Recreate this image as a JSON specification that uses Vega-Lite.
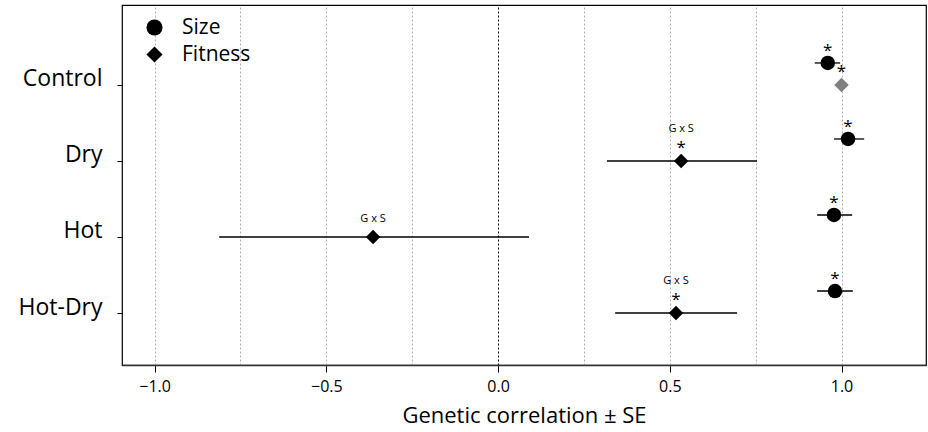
{
  "$schema": "https://vega.github.io/schema/vega-lite/v6.json",
  "width": 804,
  "height": 360,
  "autosize": {"type": "none"},
  "padding": {"left": 122, "top": 5, "right": 2, "bottom": 67},
  "background": "white",
  "config": {"view": {"stroke": "black", "strokeWidth": 1.2}, "font": "Open Sans"},
  "data": {"values": [
    {"condition": "Control", "trait": "Size", "r": 0.96, "lo": 0.922, "hi": 0.996, "star": "*", "gxs": ""},
    {"condition": "Control", "trait": "Fitness", "r": 1.0, "lo": 1.0, "hi": 1.0, "star": "*", "gxs": ""},
    {"condition": "Dry", "trait": "Size", "r": 1.019, "lo": 0.978, "hi": 1.066, "star": "*", "gxs": ""},
    {"condition": "Dry", "trait": "Fitness", "r": 0.533, "lo": 0.317, "hi": 0.754, "star": "*", "gxs": "G x S"},
    {"condition": "Hot", "trait": "Size", "r": 0.978, "lo": 0.929, "hi": 1.031, "star": "*", "gxs": ""},
    {"condition": "Hot", "trait": "Fitness", "r": -0.364, "lo": -0.812, "hi": 0.09, "star": "", "gxs": "G x S"},
    {"condition": "Hot-Dry", "trait": "Size", "r": 0.981, "lo": 0.929, "hi": 1.033, "star": "*", "gxs": ""},
    {"condition": "Hot-Dry", "trait": "Fitness", "r": 0.518, "lo": 0.341, "hi": 0.696, "star": "*", "gxs": "G x S"}
  ]},
  "encoding": {
    "y": {
      "field": "condition", "type": "nominal",
      "scale": {"type": "point", "domain": ["Control", "Dry", "Hot", "Hot-Dry"], "padding": 0.868, "align": 0.606},
      "axis": {"title": null, "domain": false, "grid": false, "ticks": true, "tickSize": 5, "tickColor": "black", "labelFontSize": 23, "labelFont": "Open Sans", "labelColor": "black", "labelPadding": 15, "labelOffset": -6}
    },
    "x": {
      "field": "r", "type": "quantitative",
      "scale": {"domain": [-1.095, 1.246], "nice": false, "zero": false},
      "axis": {
        "values": [-1, -0.75, -0.5, -0.25, 0, 0.25, 0.5, 0.75, 1],
        "labelExpr": "datum.value % 0.5 === 0 ? format(datum.value, '.1f') : ''",
        "grid": true, "gridDash": [2, 2],
        "gridColor": {"condition": {"test": "datum.value === 0", "value": "black"}, "value": "#b0b0b0"},
        "tickOpacity": {"condition": {"test": "datum.value % 0.5 !== 0", "value": 0}, "value": 1},
        "tickColor": "black", "tickSize": 7,
        "labelFontSize": 16, "labelFont": "Open Sans", "labelColor": "black", "labelPadding": 6,
        "title": "Genetic correlation ± SE", "titleFontSize": 22, "titleFont": "Open Sans", "titleFontWeight": "normal", "titleColor": "black", "titlePadding": 11,
        "domain": true, "domainColor": "#333333", "domainWidth": 1.5
      }
    }
  },
  "layer": [
    {
      "transform": [{"filter": "datum.trait === 'Size'"}],
      "mark": {"type": "rule", "color": "black", "strokeWidth": 1.3, "yOffset": -22},
      "encoding": {"x": {"field": "lo", "type": "quantitative"}, "x2": {"field": "hi"}}
    },
    {
      "transform": [{"filter": "datum.trait === 'Fitness'"}],
      "mark": {"type": "rule", "color": "black", "strokeWidth": 1.3},
      "encoding": {"x": {"field": "lo", "type": "quantitative"}, "x2": {"field": "hi"}}
    },
    {
      "transform": [{"filter": "datum.trait === 'Size'"}],
      "mark": {"type": "point", "filled": true, "opacity": 1, "size": 210, "yOffset": -22},
      "encoding": {
        "shape": {"field": "trait", "type": "nominal", "scale": {"domain": ["Size", "Fitness"], "range": ["circle", "diamond"]},
          "legend": {"title": null, "orient": "none", "legendX": 22, "legendY": 12, "labelFontSize": 21, "labelFont": "Open Sans", "labelColor": "black", "symbolSize": 260, "symbolFillColor": "black", "symbolStrokeColor": "black", "symbolStrokeWidth": 0, "labelOffset": 17, "rowPadding": 5, "padding": 0}},
        "color": {"value": "black"}
      }
    },
    {
      "transform": [{"filter": "datum.trait === 'Fitness'"}],
      "mark": {"type": "point", "filled": true, "opacity": 1, "size": 210},
      "encoding": {
        "shape": {"field": "trait", "type": "nominal"},
        "color": {"condition": {"test": "datum.condition === 'Control'", "value": "#808080"}, "value": "black"}
      }
    },
    {
      "transform": [{"filter": "datum.trait === 'Size'"}],
      "mark": {"type": "text", "fontSize": 17, "baseline": "alphabetic", "yOffset": -22, "dy": -7, "color": "black"},
      "encoding": {"text": {"field": "star"}}
    },
    {
      "transform": [{"filter": "datum.trait === 'Fitness'"}],
      "mark": {"type": "text", "fontSize": 17, "baseline": "alphabetic", "dy": -8, "color": "black"},
      "encoding": {"text": {"field": "star"}}
    },
    {
      "transform": [{"filter": "datum.trait === 'Fitness' && datum.star !== ''"}],
      "mark": {"type": "text", "fontSize": 11, "font": "Open Sans", "baseline": "alphabetic", "dy": -29, "color": "black"},
      "encoding": {"text": {"field": "gxs"}}
    },
    {
      "transform": [{"filter": "datum.trait === 'Fitness' && datum.star === ''"}],
      "mark": {"type": "text", "fontSize": 11, "font": "Open Sans", "baseline": "alphabetic", "dy": -15, "color": "black"},
      "encoding": {"text": {"field": "gxs"}}
    }
  ]
}
